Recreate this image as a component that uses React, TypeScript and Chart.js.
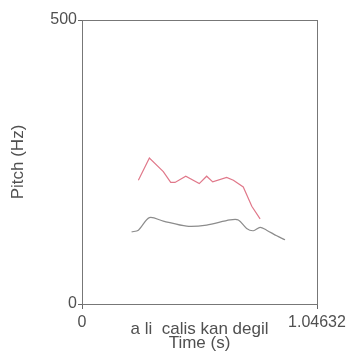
import React, { useEffect, useRef } from "react";
import { Chart, registerables } from "chart.js";

Chart.register(...registerables);

const X_MAX = 1.04632;
const Y_MAX = 500;
const X_TICK_LABELS = ["0", "1.04632"];
const Y_TICK_VALUES = [0, 500];
const X_TITLE = ["a li  calis kan degil", "Time (s)"];
const Y_TITLE = "Pitch (Hz)";

const upperTimes = [0.251, 0.3, 0.362, 0.395, 0.414, 0.462, 0.522, 0.555, 0.582, 0.644, 0.674, 0.718, 0.756, 0.793];
const upperHz = [218, 257, 233, 214, 214, 225, 212, 225, 215, 223, 218, 206, 172, 150];

const lowerTimes = [0.221, 0.251, 0.3, 0.362, 0.466, 0.555, 0.659, 0.696, 0.733, 0.763, 0.793, 0.822, 0.867, 0.904];
const lowerHz = [127, 130, 152, 146, 137, 139, 148, 148, 133, 129, 135, 130, 120, 113];

const FONT = "'Liberation Sans', Arial, sans-serif";
const TEXT = "#505050";

const framePlugin = {
  id: "frame",
  afterDraw(chart: any) {
    const { ctx, chartArea } = chart;
    ctx.save();
    ctx.strokeStyle = "#777";
    ctx.lineWidth = 1;
    ctx.strokeRect(chartArea.left + 0.5, chartArea.top + 0.5, chartArea.right - chartArea.left, chartArea.bottom - chartArea.top);
    ctx.restore();
  },
};

export default function App() {
  const ref = useRef<HTMLCanvasElement | null>(null);
  useEffect(() => {
    document.body.style.margin = "0";
    const toPts = (xs: number[], ys: number[]) => xs.map((x, i) => ({ x, y: ys[i] }));
    const chart = new Chart(ref.current!, {
      type: "line",
      data: {
        datasets: [
          {
            data: toPts(upperTimes, upperHz),
            borderColor: "#e0788a",
            borderWidth: 1.2,
            pointRadius: 0,
            tension: 0,
          },
          {
            data: toPts(lowerTimes, lowerHz),
            borderColor: "#8c8c8c",
            borderWidth: 1.2,
            pointRadius: 0,
            tension: 0.3,
          },
        ],
      },
      options: {
        animation: false,
        responsive: false,
        devicePixelRatio: 1,
        layout: { padding: { top: 20, right: 34, left: 0, bottom: 0 } },
        plugins: { legend: { display: false }, tooltip: { enabled: false } },
        scales: {
          x: {
            type: "linear",
            min: 0,
            max: X_MAX,
            afterBuildTicks: (s: any) => {
              s.ticks = [{ value: 0 }, { value: X_MAX }];
            },
            afterFit: (s: any) => {
              s.height = 48;
            },
            ticks: {
              autoSkip: false,
              maxRotation: 0,
              padding: 4,
              color: TEXT,
              font: { family: FONT, size: 16 },
              callback: (v: any, i: number) => X_TICK_LABELS[i],
            },
            grid: { drawOnChartArea: false, tickLength: 5, color: "#666" },
            border: { color: "#555" },
            title: {
              display: true,
              text: X_TITLE,
              color: TEXT,
              font: { family: FONT, size: 17, lineHeight: 0.8 },
              padding: { top: 0, bottom: 2 },
            },
          },
          y: {
            type: "linear",
            min: 0,
            max: Y_MAX,
            afterBuildTicks: (s: any) => {
              s.ticks = Y_TICK_VALUES.map((value) => ({ value }));
            },
            afterFit: (s: any) => {
              s.width = 82;
            },
            ticks: {
              autoSkip: false,
              padding: 1,
              color: TEXT,
              font: { family: FONT, size: 16 },
              callback: (v: any) => String(v),
            },
            grid: { drawOnChartArea: false, tickLength: 4, color: "#666" },
            border: { color: "#555" },
            title: {
              display: true,
              text: Y_TITLE,
              color: TEXT,
              font: { family: FONT, size: 17, lineHeight: 1.2 },
              padding: { top: 8, bottom: 0 },
            },
          },
        },
      },
      plugins: [framePlugin],
    } as any);
    return () => chart.destroy();
  }, []);
  return <canvas ref={ref} width={351} height={352} style={{ display: "block" }} />;
}
